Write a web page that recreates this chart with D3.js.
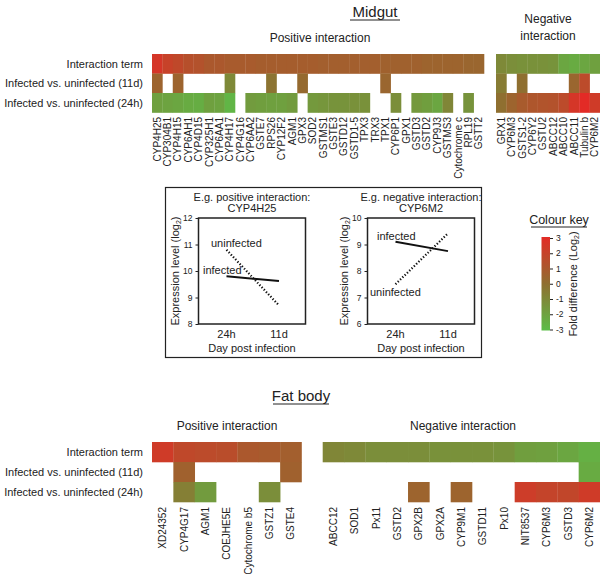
<!DOCTYPE html>
<html><head><meta charset="utf-8">
<script src="https://cdn.jsdelivr.net/npm/d3@7"></script>
<style>body{margin:0;background:#fff}svg{display:block;font-family:"Liberation Sans",Arial,sans-serif}</style>
</head><body><svg id="c" width="600" height="574"></svg>
<script>
const rowLabels = ["Interaction term","Infected vs. uninfected (11d)","Infected vs. uninfected (24h)"];

const midgutPosGenes = ["CYP4H25","CYP304B1","CYP4H15","CYP6AH1","CYP4D15","CYP325H1","CYP6AA1","CYP4H17","CYP4G16","CYP6AA2","GSTE7","RPS26","CYP12F2","AGM1","GPX3","SOD2","GSTMS1","GSTE3","GSTD12","GSTD1-5","TPX3","TRX3","TPX1","CYP6P1","GPX1","GSTD3","GSTD2","CYP9J3","GSTMS3","Cytochrome c","RPL19","GSTT2"];
const midgutPosInter = [2.5,2.0,1.7,1.4,1.3,1.0,1.0,0.9,0.9,0.9,0.8,0.8,0.8,0.8,0.8,0.8,0.7,0.7,0.7,0.7,0.7,0.7,0.6,0.6,0.6,0.6,0.5,0.5,0.5,0.5,0.4,0.4];
const midgutPos11d = [0.5,null,0.5,null,null,null,null,-1.0,null,null,null,-0.2,null,null,0.2,null,null,null,null,null,null,null,0.4,null,null,null,null,null,null,null,null,null];
const midgutPos24h = [-1.9,-2.0,-2.1,-2.3,-2.4,-1.9,-2.0,-2.7,null,-1.7,-1.8,-1.9,-1.9,-1.7,null,-1.6,-1.5,-1.4,-1.4,-1.3,-1.3,null,null,-1.2,null,-1.6,-1.8,-2.1,-0.9,null,-1.4,null];

const midgutNegGenes = ["GRX1","CYP6M3","GSTS1-2","CYP6Y2","GSTU2","ABCC12","ABCC10","ABCC11","Tubulin b","CYP6M2"];
const midgutNegInter = [-1.0,-1.2,-1.3,-1.3,-1.3,-1.4,-2.1,-2.3,-2.1,-1.9];
const midgutNeg11d = [-0.5,null,0.0,null,null,null,null,0.4,1.6,null];
const midgutNeg24h = [0.0,0.5,0.9,1.1,1.2,1.3,1.6,2.5,3.0,2.3];

const fatPosGenes = ["XD24352","CYP4G17","AGM1","COEJHE5E","Cytochrome b5","GSTZ1","GSTE4"];
const fatPosInter = [2.3,1.7,1.6,1.5,1.0,0.9,0.7];
const fatPos11d = [null,0.6,null,null,null,null,0.6];
const fatPos24h = [null,-0.6,-1.7,null,null,-1.2,null];

const fatNegGenes = ["ABCC12","SOD1","Px11","GSTD2","GPX2B","GPX2A","CYP9M1","GSTD11","Px10","NIT8537","CYP6M3","GSTD3","CYP6M2"];
const fatNegInter = [-0.9,-1.0,-1.2,-1.2,-1.2,-1.3,-1.3,-1.3,-1.4,-1.8,-1.9,-2.1,-2.5];
const fatNeg11d = [null,null,null,null,null,null,null,null,null,null,null,null,-2.3];
const fatNeg24h = [null,null,null,null,0.5,null,0.5,null,null,2.2,1.9,1.8,2.3];

// example line plots
const exTimes = ["24h","11d"];
const posExInfected = [9.8,9.62];
const posExUninfected = [10.8,8.7];
const negExInfected = [9.1,8.75];
const negExUninfected = [7.5,9.42];
const keyTicks = [3,2,1,0,-1,-2,-3];

const svg = d3.select("#c");
const color = d3.scaleLinear().domain([-3,0,3]).range(["#5cbd48","#8f6f30","#e32b26"]).clamp(true);
const FONT = 11;

function heat(genes, series, x, y, labelTop) {
  const g = svg.append("g");
  series.forEach((vals, r) => {
    g.selectAll(null).data(genes.map((n,i)=>({n,v:vals[i]})).filter(d=>d.v!==null))
      .enter().append("rect")
      .attr("x", d=>x(d.n)).attr("y", y(rowLabels[r]))
      .attr("width", x.bandwidth()+0.3).attr("height", y.bandwidth()+0.3)
      .attr("fill", d=>color(d.v));
  });
  g.selectAll(null).data(genes).enter().append("text")
    .attr("transform", d=>`translate(${x(d)+x.bandwidth()/2+3.5},${labelTop}) rotate(-90)`)
    .attr("text-anchor","end").attr("font-size",10).attr("fill","#222").text(d=>d);
}
function rowText(y) {
  svg.append("g").selectAll(null).data(rowLabels).enter().append("text")
    .attr("x",143).attr("y",d=>y(d)+y.bandwidth()/2+4).attr("text-anchor","end")
    .attr("font-size",FONT).attr("fill","#222").text(d=>d);
}
function title(txt, cx, by, w, size) {
  svg.append("text").attr("x",cx).attr("y",by).attr("text-anchor","middle").attr("font-size",size||15).attr("fill","#222").text(txt);
  svg.append("line").attr("x1",cx-w/2).attr("x2",cx+w/2).attr("y1",by+3).attr("y2",by+3).attr("stroke","#222").attr("stroke-width",1);
}
function label(txt, x, y, size, anchor) {
  svg.append("text").attr("x",x).attr("y",y).attr("text-anchor",anchor||"middle").attr("font-size",size).attr("fill","#222").text(txt);
}

// Midgut
title("Midgut", 375, 17, 50);
label("Positive interaction", 320, 42, 12);
label("Negative", 548, 23, 12);
label("interaction", 548, 40, 12);
const yM = d3.scaleBand().domain(rowLabels).range([54,112.5]);
rowText(yM);
heat(midgutPosGenes,[midgutPosInter,midgutPos11d,midgutPos24h], d3.scaleBand().domain(midgutPosGenes).range([152,484]), yM, 117);
heat(midgutNegGenes,[midgutNegInter,midgutNeg11d,midgutNeg24h], d3.scaleBand().domain(midgutNegGenes).range([496,600]), yM, 117);

// Fat body
title("Fat body", 301, 401, 56);
label("Positive interaction", 227, 430, 12);
label("Negative interaction", 463, 430, 12);
const yF = d3.scaleBand().domain(rowLabels).range([442,502]);
rowText(yF);
heat(fatPosGenes,[fatPosInter,fatPos11d,fatPos24h], d3.scaleBand().domain(fatPosGenes).range([152,301.5]), yF, 507);
heat(fatNegGenes,[fatNegInter,fatNeg11d,fatNeg24h], d3.scaleBand().domain(fatNegGenes).range([322.7,600]), yF, 507);

// Inset box
svg.append("rect").attr("x",165.5).attr("y",187.5).attr("width",316).attr("height",170).attr("fill","none").attr("stroke","#222").attr("stroke-width",1.2);

function example(left, domain, ticks, inf, uninf, t1, t2, labs) {
  const top=218, bottom=324, right=left+107;
  const y = d3.scaleLinear().domain(domain).range([bottom,top]);
  const x = d3.scalePoint().domain(exTimes).range([left+28,left+80.5]);
  const g = svg.append("g");
  g.append("g").attr("transform",`translate(${left},0)`).call(d3.axisLeft(y).tickValues(ticks).tickSize(3).tickFormat(d3.format("d")))
    .call(a=>{a.select(".domain").remove();a.selectAll("text").attr("font-size",8.5).attr("font-family","Liberation Sans").attr("fill","#222");a.selectAll("line").attr("stroke","#222");});
  g.append("rect").attr("x",left).attr("y",top).attr("width",right-left).attr("height",bottom-top).attr("fill","none").attr("stroke","#222").attr("stroke-width",1.5);
  exTimes.forEach(t=>g.append("text").attr("x",x(t)).attr("y",bottom+14).attr("text-anchor","middle").attr("font-size",FONT).attr("fill","#222").text(t));
  const line = d3.line().x((d,i)=>x(exTimes[i])).y(d=>y(d));
  g.append("path").attr("d",line(inf)).attr("fill","none").attr("stroke","#111").attr("stroke-width",2);
  g.append("path").attr("d",line(uninf)).attr("fill","none").attr("stroke","#111").attr("stroke-width",2.2).attr("stroke-dasharray","1.3,1.9");
  const cx=(left+right)/2;
  label(t1, cx, 201, FONT); label(t2, cx, 212, FONT);
  label("Day post infection", cx, 352, FONT);
  const yl = g.append("text").attr("transform",`translate(${left-20},${(top+bottom)/2}) rotate(-90)`).attr("text-anchor","middle").attr("font-size",FONT).attr("fill","#222");
  yl.append("tspan").text("Expression level (log");
  yl.append("tspan").attr("font-size",7).attr("dy",2).text("2");
  yl.append("tspan").attr("dy",-2).text(")");
  labs.forEach(l=>label(l[0], l[1], l[2], FONT, "start"));
}
example(198.5,[8,12],[8,9,10,11,12],posExInfected,posExUninfected,"E.g. positive interaction:","CYP4H25",
  [["uninfected",211,247],["infected",203,274]]);
example(367.5,[6,10],[6,7,8,9,10],negExInfected,negExUninfected,"E.g. negative interaction:","CYP6M2",
  [["infected",377,240],["uninfected",370,296]]);

// Colour key
const defs = svg.append("defs");
const grad = defs.append("linearGradient").attr("id","kg").attr("x1",0).attr("x2",0).attr("y1",0).attr("y2",1);
keyTicks.forEach((v,i)=>grad.append("stop").attr("offset",i/(keyTicks.length-1)).attr("stop-color",color(v)));
title("Colour key", 559, 224, 56, 12.5);
const ky = d3.scaleLinear().domain([-3,3]).range([329.5,238]);
svg.append("rect").attr("x",541.5).attr("y",237).attr("width",8.5).attr("height",93.5).attr("fill","url(#kg)");
svg.append("g").attr("transform","translate(550,0)").call(d3.axisRight(ky).tickValues(keyTicks).tickSize(3).tickFormat(d=>d<0?"-"+Math.abs(d):d))
  .call(a=>{a.select(".domain").remove();a.selectAll("text").attr("font-size",8.5).attr("font-family","Liberation Sans").attr("fill","#222");a.selectAll("line").attr("stroke","#222");});
const kl = svg.append("text").attr("transform","translate(577,284) rotate(-90)").attr("text-anchor","middle").attr("font-size",FONT).attr("fill","#222");
kl.append("tspan").text("Fold difference (Log");
kl.append("tspan").attr("font-size",7).attr("dy",2).text("2");
kl.append("tspan").attr("dy",-2).text(")");
</script></body></html>
